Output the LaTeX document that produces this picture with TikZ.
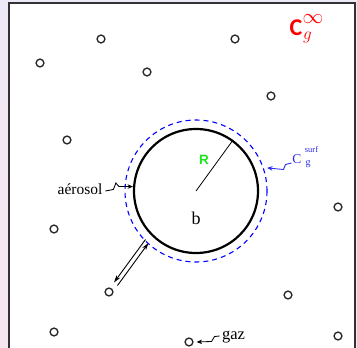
\documentclass[tikz,border=0pt]{standalone}
\usepackage{fontspec}
\setmainfont{Liberation Serif}
\newfontfamily\cfont{Carlito}
\newfontfamily\rfont{Liberation Sans}
\usetikzlibrary{arrows.meta}
\definecolor{bgl}{RGB}{238,233,246}
\definecolor{bgp}{RGB}{246,230,240}
\definecolor{framec}{RGB}{50,50,50}
\definecolor{surfblue}{RGB}{45,45,235}
\definecolor{rgreen}{RGB}{30,230,30}
\tikzset{
  mol/.style={circle,draw=black!85,line width=1.35pt,minimum size=7.8pt,inner sep=0pt},
  lbl/.style={inner sep=0pt,outer sep=0pt},
  zig/.style={-{Stealth[length=5.5pt,width=4.5pt]},line width=0.85pt,line join=miter},
  flux/.style={-{Stealth[length=7.5pt,width=4.5pt]},line width=0.9pt}
}
\begin{document}
\begin{tikzpicture}[x=1pt,y=-1pt]
\useasboundingbox (0,0) rectangle (357,348);
\fill[bgl] (0,0) rectangle (357,348);
\shade[top color=bgl,bottom color=bgp] (0,0) rectangle (9,348);
\fill[white] (9,3) rectangle (355,348);
\draw[line width=1.4pt,draw=framec] (9,350) -- (9,3) -- (355,3) -- (355,350);

% big particle
\node[circle,draw=blue,line width=1.1pt,dash pattern=on 5pt off 4pt,minimum size=142pt,inner sep=0pt] (surf) at (196,191) {};
\node[circle,draw=black,line width=2.2pt,minimum size=124pt,inner sep=0pt] (big) at (196,191) {};
\draw[line width=0.8pt] (big.center) -- (big.54);
\node[lbl,text=rgreen,font=\fontsize{13.5}{15}\rfont\bfseries] (R) at (204,160) {R};
\node[lbl,font=\fontsize{18}{20}\selectfont] (b) at (196,218) {b};

% gas molecules
\node[mol] (m1) at (40,63) {};
\node[mol] (m2) at (101,39) {};
\node[mol] (m3) at (147,72) {};
\node[mol] (m4) at (235,39) {};
\node[mol] (m5) at (271,96) {};
\node[mol] (m6) at (67,140) {};
\node[mol] (m7) at (338,207) {};
\node[mol] (m8) at (54,229) {};
\node[mol] (m9) at (109,292) {};
\node[mol] (m10) at (288,295) {};
\node[mol] (m11) at (54,332) {};
\node[mol] (m12) at (189,342) {};
\node[mol] (m13) at (338,336) {};

% C_g infinity
\node[lbl,text=red,font=\fontsize{24}{26}\cfont\bfseries] (cinf) at (296,27.5) {C};
\node[lbl,text=red,font=\fontsize{17}{20}\selectfont] (ginf) at (307.5,37) {$g$};
\node[lbl,text=red,font=\fontsize{20}{22}\selectfont] (inf) at (313,19) {$\infty$};

% C_g surf
\node[lbl,text=surfblue,font=\fontsize{13.5}{15}\selectfont] (cs) at (297,159.5) {C};
\node[lbl,text=surfblue,font=\fontsize{8.5}{10}\selectfont] (csup) at (311.5,150) {surf};
\node[lbl,text=surfblue,font=\fontsize{10}{12}\selectfont] (csub) at (308,164) {g};

% aerosol label
\node[lbl,font=\fontsize{15.5}{18}\selectfont] (aer) at (80,189) {aérosol};
% gaz label
\node[lbl,font=\fontsize{16.5}{19}\selectfont] (gaz) at (233.5,337) {gaz};

% zigzag pointers
\draw[zig] (aer.east) ++(3,2) coordinate (az) -- ++(8,-1.5) -- ++(2.5,-6.5) -- ++(3,3.5) -- (big.176);
\draw[zig,draw=surfblue] (cs.west) ++(-1,3.5) coordinate (sz) -- ++(-6,1.5) -- ++(-2,5) -- ([xshift=3pt,yshift=1pt]surf.18);
\draw[zig] (gaz.west) ++(-2.5,-1) coordinate (gz) -- ++(-5,0.5) -- ++(-3,5) -- ([xshift=3pt]m12.east);

% exchange arrows
\coordinate (da1) at (145.5,239.5);
\coordinate (da2) at (114,282.5);
\coordinate (db1) at (117.5,285.5);
\coordinate (db2) at (148.5,243);
\draw[flux] (da1) -- (da2);
\draw[flux] (db1) -- (db2);
\end{tikzpicture}
\end{document}
